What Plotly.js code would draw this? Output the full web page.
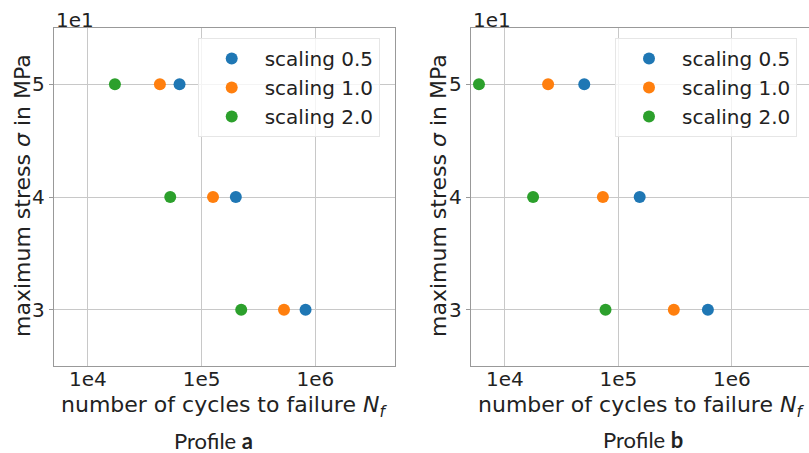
<!DOCTYPE html>
<html>
<head>
<meta charset="utf-8">
<script src="https://cdn.plot.ly/plotly-3.0.1.min.js"></script>
<style>html,body{margin:0;padding:0;background:#fff;}#plot{width:809px;height:453px;}</style>
</head>
<body>
<div id="plot"></div>
<script>
// ---- data ----
const stress = [50, 40, 30];                 // MPa
const seriesNames = ["scaling 0.5", "scaling 1.0", "scaling 2.0"];
const colors = ["#1f77b4", "#ff7f0e", "#2ca02c"];
// Profile a: cycles to failure per stress level
const profileA_s05 = [6.4e4, 2.0e5, 8.2e5];
const profileA_s10 = [4.3e4, 1.26e5, 5.3e5];
const profileA_s20 = [1.73e4, 5.3e4, 2.23e5];
// Profile b
const profileB_s05 = [5.0e4, 1.54e5, 6.15e5];
const profileB_s10 = [2.4e4, 7.3e4, 3.08e5];
const profileB_s20 = [5.9e3, 1.77e4, 7.7e4];
const xTickVals = [1e4, 1e5, 1e6];
const xTickText = ["1e4", "1e5", "1e6"];
const yTickVals = [30, 40, 50];
const yTickText = ["3", "4", "5"];

const W = 809, H = 453;
const px = v => v / W, py = v => 1 - v / H;

const A = [profileA_s05, profileA_s10, profileA_s20];
const B = [profileB_s05, profileB_s10, profileB_s20];
const traces = [];
A.forEach((xs, i) => traces.push({
  x: xs, y: stress, type: "scatter", mode: "markers", name: seriesNames[i],
  marker: {color: colors[i], size: 12}, xaxis: "x", yaxis: "y", legend: "legend"
}));
B.forEach((xs, i) => traces.push({
  x: xs, y: stress, type: "scatter", mode: "markers", name: seriesNames[i],
  marker: {color: colors[i], size: 12}, xaxis: "x2", yaxis: "y2", legend: "legend2"
}));

const font = {family: "DejaVu Sans", size: 20, color: "#222"};
const titleFont = {family: "DejaVu Sans", size: 22, color: "#222"};
function xax(dom, anchor, range) {
  return {
    type: "log", domain: dom, anchor: anchor, range: range,
    tickvals: xTickVals, ticktext: xTickText,
    showgrid: true, gridcolor: "#c8c8c8", gridwidth: 1,
    showline: true, linecolor: "#999", linewidth: 1, mirror: true,
    ticks: "", ticklabelstandoff: -5,
    tickfont: font, zeroline: false
  };
}
function yax(dom, anchor) {
  return {
    domain: dom, anchor: anchor, range: [25, 55],
    tickvals: yTickVals, ticktext: yTickText,
    showgrid: true, gridcolor: "#c8c8c8", gridwidth: 1,
    showline: true, linecolor: "#999", linewidth: 1, mirror: true,
    ticks: "outside", ticklen: 4, tickcolor: "#999",
    tickfont: font, zeroline: false
  };
}
const yDom = [py(366), py(28)];
const legendBase = {
  font: font, bgcolor: "rgba(255,255,255,0.8)", bordercolor: "#e6e6e6", borderwidth: 1,
  xanchor: "left", yanchor: "top", itemwidth: 56
};
const xTitle = "number of cycles to failure <i>N<sub>f</sub></i>";
const yTitle = "maximum stress <i>σ</i> in MPa";
const ann = (x, y, text, extra) => Object.assign({
  xref: "paper", yref: "paper", x: px(x), y: py(y), text: text, showarrow: false,
  font: titleFont, xanchor: "center", yanchor: "middle"
}, extra || {});

const layout = {
  width: W, height: H, margin: {l: 0, r: 0, t: 0, b: 0},
  paper_bgcolor: "#fff", plot_bgcolor: "#fff", font: font,
  xaxis: xax([px(53.7), px(395)], "y", [3.70, 6.70]),
  yaxis: yax(yDom, "x"),
  xaxis2: xax([px(470.7), 1], "y2", [3.698, 6.68]),
  yaxis2: yax(yDom, "x2"),
  legend: Object.assign({}, legendBase, {x: px(197.7), y: py(38)}),
  legend2: Object.assign({}, legendBase, {x: px(615), y: py(38)}),
  annotations: [
    ann(54, 20, "1e1", {xanchor: "left", font: font}),
    ann(471, 20, "1e1", {xanchor: "left", font: font}),
    ann(224, 406, xTitle),
    ann(641, 406, xTitle),
    ann(22, 196, yTitle, {textangle: -90}),
    ann(438, 196, yTitle, {textangle: -90}),
    ann(213, 440, "Profile <b>a</b>", {font: {family: "Lato", size: 22, color: "#222"}}),
    ann(643, 439, "Profile <b>b</b>", {font: {family: "Lato", size: 22, color: "#222"}})
  ]
};
Plotly.newPlot("plot", traces, layout, {staticPlot: true, displayModeBar: false});
</script>
</body>
</html>
